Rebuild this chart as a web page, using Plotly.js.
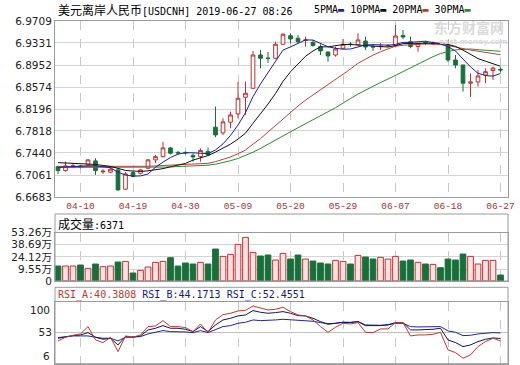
<!DOCTYPE html>
<html><head><meta charset="utf-8">
<script src="https://cdn.plot.ly/plotly-3.0.1.min.js"></script>
<style>html,body{margin:0;padding:0;background:#fff;}#chart{width:520px;height:365px;}</style>
</head><body><div id="chart"></div>
<script>
const dates = ['04-05','04-08','04-09','04-10','04-11','04-12','04-15','04-16','04-17','04-18','04-19','04-22','04-23','04-24','04-25','04-26','04-29','04-30','05-01','05-02','05-03','05-06','05-07','05-08','05-09','05-10','05-13','05-14','05-15','05-16','05-17','05-20','05-21','05-22','05-23','05-24','05-27','05-28','05-29','05-30','05-31','06-03','06-04','06-05','06-06','06-07','06-10','06-11','06-12','06-13','06-14','06-17','06-18','06-19','06-20','06-21','06-24','06-25','06-26','06-27'];
const tickLabels = ['04-10','04-19','04-30','05-09','05-20','05-29','06-07','06-18','06-27'];
const priceTicks = [6.6683, 6.7061, 6.7440, 6.7818, 6.8196, 6.8574, 6.8952, 6.9331, 6.9709];

const open = [6.7206,6.7137,6.7200,6.7218,6.7235,6.7304,6.7115,6.7109,6.7149,6.6817,6.7103,6.7092,6.7178,6.7321,6.7377,6.7527,6.7450,6.7450,6.7398,6.7377,6.7467,6.7883,6.7785,6.7969,6.8111,6.8398,6.8553,6.9125,6.9073,6.9068,6.9309,6.9456,6.9412,6.9374,6.9343,6.9267,6.9176,6.9125,6.9240,6.9314,6.9297,6.9365,6.9271,6.9267,6.9279,6.9288,6.9460,6.9353,6.9271,6.9340,6.9322,6.9322,6.9297,6.9039,6.8953,6.8639,6.8661,6.8781,6.8858,6.8879];
const high = [6.7218,6.7291,6.7264,6.7235,6.7333,6.7350,6.7161,6.7206,6.7178,6.7115,6.7123,6.7166,6.7338,6.7407,6.7635,6.7544,6.7475,6.7467,6.7432,6.7518,6.7532,6.8237,6.8037,6.8151,6.8666,6.8666,6.9194,6.9211,6.9176,6.9353,6.9498,6.9498,6.9468,6.9439,6.9383,6.9309,6.9182,6.9267,6.9400,6.9343,6.9498,6.9439,6.9309,6.9326,6.9314,6.9640,6.9554,6.9439,6.9326,6.9365,6.9357,6.9348,6.9383,6.9125,6.8953,6.8810,6.8867,6.8896,6.8924,6.8913];
const low = [6.7080,6.7120,6.7178,6.7175,6.7218,6.7063,6.7080,6.7097,6.6793,6.6805,6.7020,6.7072,6.7166,6.7264,6.7364,6.7415,6.7407,6.7415,6.7291,6.7291,6.7389,6.7711,6.7750,6.7865,6.8037,6.8094,6.8541,6.8896,6.8987,6.9051,6.9297,6.9326,6.9326,6.9267,6.9267,6.9125,6.9010,6.9096,6.9237,6.9267,6.9288,6.9211,6.9194,6.9211,6.9262,6.9267,6.9400,6.9240,6.9182,6.9297,6.9297,6.9297,6.9005,6.8896,6.8494,6.8403,6.8580,6.8639,6.8695,6.8821];
const close = [6.7137,6.7218,6.7218,6.7200,6.7321,6.7137,6.7127,6.7161,6.6805,6.7080,6.7037,6.7149,6.7321,6.7377,6.7527,6.7436,6.7441,6.7441,6.7372,6.7484,6.7407,6.7750,6.7974,6.8094,6.8381,6.8467,6.9125,6.9068,6.9065,6.9309,6.9481,6.9400,6.9353,6.9383,6.9288,6.9194,6.9108,6.9228,6.9309,6.9305,6.9383,6.9262,6.9262,6.9274,6.9288,6.9451,6.9434,6.9271,6.9322,6.9331,6.9331,6.9314,6.9039,6.8953,6.8639,6.8661,6.8764,6.8838,6.8901,6.8867];

const ma5 = [6.7192,6.7200,6.7209,6.7212,6.7219,6.7219,6.7200,6.7188,6.7109,6.7061,6.7042,6.7046,6.7078,6.7194,6.7283,6.7362,6.7420,6.7444,6.7443,6.7434,6.7429,6.7491,6.7597,6.7742,6.7920,6.8133,6.8408,6.8627,6.8821,6.9006,6.9209,6.9264,6.9321,6.9384,6.9381,6.9324,6.9266,6.9240,6.9224,6.9228,6.9266,6.9297,6.9303,6.9297,6.9293,6.9307,6.9341,6.9343,6.9353,6.9362,6.9338,6.9314,6.9267,6.9194,6.9054,6.8920,6.8810,6.8771,6.8761,6.8807];
const ma10 = [6.7274,6.7269,6.7266,6.7261,6.7252,6.7243,6.7226,6.7209,6.7175,6.7140,6.7130,6.7123,6.7133,6.7151,6.7171,6.7202,6.7233,6.7261,6.7317,6.7359,6.7395,6.7455,6.7520,6.7592,6.7678,6.7781,6.7950,6.8113,6.8281,6.8463,6.8671,6.8836,6.8974,6.9102,6.9194,6.9266,6.9264,6.9281,6.9305,6.9305,6.9295,6.9281,6.9273,6.9261,6.9261,6.9286,6.9319,6.9324,6.9326,6.9328,6.9322,6.9328,6.9305,6.9273,6.9209,6.9130,6.9063,6.9018,6.8977,6.8931];
const ma20 = [6.7209,6.7209,6.7209,6.7212,6.7212,6.7214,6.7214,6.7212,6.7204,6.7204,6.7204,6.7207,6.7211,6.7218,6.7223,6.7226,6.7230,6.7235,6.7240,6.7249,6.7262,6.7290,6.7328,6.7372,6.7426,6.7491,6.7592,6.7687,6.7800,6.7912,6.8034,6.8145,6.8247,6.8348,6.8436,6.8523,6.8608,6.8697,6.8793,6.8884,6.8982,6.9058,6.9123,6.9181,6.9228,6.9276,6.9291,6.9302,6.9316,6.9316,6.9309,6.9305,6.9288,6.9267,6.9235,6.9209,6.9192,6.9171,6.9151,6.9130];
const ma30 = [6.7192,6.7192,6.7192,6.7192,6.7194,6.7194,6.7194,6.7192,6.7188,6.7187,6.7187,6.7187,6.7190,6.7194,6.7197,6.7200,6.7204,6.7209,6.7214,6.7221,6.7230,6.7247,6.7273,6.7307,6.7346,6.7393,6.7453,6.7518,6.7585,6.7654,6.7733,6.7805,6.7876,6.7950,6.8015,6.8084,6.8149,6.8218,6.8302,6.8376,6.8453,6.8523,6.8589,6.8652,6.8711,6.8778,6.8845,6.8905,6.8970,6.9032,6.9096,6.9149,6.9183,6.9212,6.9221,6.9228,6.9216,6.9207,6.9202,6.9188];

const volume = [13.16,13.16,13.16,14.36,10.35,15.57,12.36,13.16,17.97,18.77,4.74,7.95,11.96,17.57,18.77,23.19,13.16,16.77,15.57,17.57,15.57,33.61,24.79,27.20,39.24,47.65,29.60,25.19,26.39,20.38,28.40,21.58,26.39,21.58,19.17,16.77,15.57,19.98,18.77,15.57,25.99,23.99,21.58,23.59,21.58,24.79,19.17,20.38,17.57,15.57,15.17,11.16,21.58,20.38,27.60,24.79,15.57,19.98,19.98,2.33];
const volTicks = [9.55, 24.12, 38.69, 53.26];
const volTickText = ['9.55万','24.12万','38.69万','53.26万'];

const rsiA = [40.42,45.95,48.97,50.99,62.06,41.93,37.90,45.95,24.31,47.97,45.95,49.48,62.06,63.07,71.12,62.06,62.06,60.55,54.51,66.09,53.00,72.13,80.18,82.19,85.71,86.72,93.26,89.74,87.22,88.23,91.25,84.71,79.67,78.17,72.13,62.06,53.50,61.05,67.09,66.09,68.10,53.50,53.00,58.54,58.54,68.10,68.10,47.97,49.48,49.48,50.48,53.50,26.83,22.80,14.25,19.28,31.86,39.41,44.44,40.38];
const rsiB = [44.44,46.96,48.47,49.48,53.00,45.95,42.93,44.44,34.38,46.96,45.95,47.97,57.03,59.54,63.57,59.54,59.54,58.03,54.51,62.06,54.51,64.58,72.13,74.64,78.17,79.67,86.22,83.70,82.19,83.20,84.71,82.19,78.67,78.17,74.64,69.61,65.58,67.09,68.60,68.10,69.61,63.57,63.07,63.57,64.58,68.10,68.10,57.03,57.03,57.03,58.03,59.54,41.93,37.90,31.86,34.38,39.41,42.93,44.95,44.17];
const rsiC = [45.45,46.96,47.97,47.97,47.97,45.95,44.44,44.44,40.42,45.95,45.95,46.96,50.99,53.00,56.02,54.51,54.51,54.01,53.00,56.02,53.00,58.03,62.06,63.57,67.09,68.60,72.13,71.12,71.12,72.13,73.13,72.63,71.12,71.12,70.11,68.10,66.59,67.09,68.60,68.60,69.61,64.58,64.07,64.07,65.08,67.09,67.09,62.06,61.56,61.56,61.56,62.06,55.52,53.50,48.47,48.97,50.99,51.99,53.00,52.46];

const RED = '#bf3030', GREEN = '#17703a';
const W = 520, H = 365;
const px = v => v / W, py = v => 1 - v / H;
const XD = [px(55), px(508)];
const VOL_MIN = -4.85;

const isUp = close.map((c, i) => c >= open[i]);

const traces = [
  {type:'candlestick', x:dates, open:open, high:high, low:low, close:close, xaxis:'x', yaxis:'y',
   increasing:{line:{color:RED, width:1}, fillcolor:'#ffffff'},
   decreasing:{line:{color:GREEN, width:1}, fillcolor:GREEN},
   whiskerwidth:0, hoverinfo:'skip'},
  {type:'scatter', mode:'lines', x:dates, y:ma30, line:{color:'#2e8b2e', width:1}, xaxis:'x', yaxis:'y', hoverinfo:'skip'},
  {type:'scatter', mode:'lines', x:dates, y:ma20, line:{color:'#b8453a', width:1}, xaxis:'x', yaxis:'y', hoverinfo:'skip'},
  {type:'scatter', mode:'lines', x:dates, y:ma10, line:{color:'#111111', width:1}, xaxis:'x', yaxis:'y', hoverinfo:'skip'},
  {type:'scatter', mode:'lines', x:dates, y:ma5, line:{color:'#1f1f99', width:1}, xaxis:'x', yaxis:'y', hoverinfo:'skip'},
  {type:'bar', x:dates, y:volume.map(v => v - VOL_MIN), base:VOL_MIN, xaxis:'x2', yaxis:'y2',
   marker:{color:isUp.map(u => u ? '#ffe3e3' : GREEN), line:{color:isUp.map(u => u ? RED : GREEN), width:1}},
   hoverinfo:'skip'},
  {type:'scatter', mode:'lines', x:dates, y:rsiC, line:{color:'#23239a', width:1}, xaxis:'x3', yaxis:'y3', hoverinfo:'skip'},
  {type:'scatter', mode:'lines', x:dates, y:rsiB, line:{color:'#15154f', width:1}, xaxis:'x3', yaxis:'y3', hoverinfo:'skip'},
  {type:'scatter', mode:'lines', x:dates, y:rsiA, line:{color:'#c0392b', width:1}, xaxis:'x3', yaxis:'y3', hoverinfo:'skip'}
];

const gridX = {type:'category', range:[-0.4, 60], tickvals:tickLabels, ticktext:tickLabels,
  showgrid:true, gridcolor:'#c8c8c8', griddash:'dash', gridwidth:1,
  showline:true, mirror:true, linecolor:'#9a9a9a', linewidth:1, ticks:'', zeroline:false, fixedrange:true};

const layout = {
  width:W, height:H, margin:{l:0, r:0, t:0, b:0}, paper_bgcolor:'#fff', plot_bgcolor:'#fff',
  showlegend:false, boxgap:0.3, bargap:0.24, hovermode:false,
  xaxis: Object.assign({}, gridX, {domain:XD, anchor:'y', rangeslider:{visible:false},
    tickfont:{family:'Liberation Mono, DejaVu Sans Mono, monospace', size:9.5, color:'#a83232'}}),
  yaxis: {domain:[py(197), py(21)], anchor:'x', range:[6.6683, 6.9709], tickvals:priceTicks,
    ticktext:priceTicks.map(v => v.toFixed(4)), tickfont:{family:'DejaVu Sans', size:10.5, color:'#222'},
    showgrid:true, gridcolor:'#d4d4d4', showline:true, mirror:true, linecolor:'#9a9a9a', ticks:'', zeroline:false, fixedrange:true},
  xaxis2: Object.assign({}, gridX, {domain:XD, anchor:'y2', matches:'x', showticklabels:false}),
  yaxis2: {domain:[py(281), py(232.7)], anchor:'x2', range:[VOL_MIN, 53.26],
    tickvals:[VOL_MIN].concat(volTicks), ticktext:['0'].concat(volTickText),
    tickfont:{family:'DejaVu Sans, Noto Sans CJK SC', size:10.5, color:'#222'},
    showgrid:true, gridcolor:'#d4d4d4', showline:true, mirror:true, linecolor:'#b0b0b0', ticks:'', zeroline:false, fixedrange:true},
  xaxis3: Object.assign({}, gridX, {domain:XD, anchor:'y3', matches:'x', showticklabels:false}),
  yaxis3: {domain:[py(363.7), py(301.5)], anchor:'x3', range:[6, 100], tickvals:[53], ticktext:['53'],
    tickfont:{family:'DejaVu Sans', size:10.5, color:'#222'},
    showgrid:true, gridcolor:'#c0c0c0', showline:true, mirror:true, linecolor:'#9a9a9a', ticks:'', zeroline:false, fixedrange:true},
  shapes:[
    {type:'rect', xref:'paper', yref:'paper', x0:XD[0], x1:XD[1], y0:py(281), y1:py(214), line:{color:'#9a9a9a', width:1}},
    {type:'rect', xref:'paper', yref:'paper', x0:XD[0], x1:XD[1], y0:py(363.7), y1:py(287.3), line:{color:'#9a9a9a', width:1}}
  ],
  annotations:[
    {xref:'paper', yref:'paper', x:px(432), y:py(27), xanchor:'left', yanchor:'middle', showarrow:false,
     text:'<b>东方财富网</b>', font:{family:'Noto Sans CJK SC', size:14, color:'#dadada'}},
    {xref:'paper', yref:'paper', x:px(437), y:py(41.5), xanchor:'left', yanchor:'middle', showarrow:false,
     text:'<b>east money.com</b>', font:{family:'DejaVu Sans', size:7.5, color:'#dadada'}},
    {xref:'paper', yref:'paper', x:px(56), y:py(9.5), xanchor:'left', yanchor:'middle', showarrow:false,
     text:'美元离岸人民币<span style="font-family:DejaVu Sans Mono;font-size:10px">[USDCNH] 2019-06-27 08:26</span>',
     font:{family:'Noto Sans CJK SC', size:12, color:'#000'}},
    {xref:'paper', yref:'paper', x:px(312), y:py(9.5), xanchor:'left', yanchor:'middle', showarrow:false,
     text:'5PMA<span style="color:#1f1f99">▬</span> 10PMA<span style="color:#111">▬</span> 20PMA<span style="color:#c0392b">▬</span> 30PMA<span style="color:#2e8b2e">▬</span>',
     font:{family:'DejaVu Sans Mono', size:10, color:'#000'}},
    {xref:'paper', yref:'paper', x:px(56), y:py(223), xanchor:'left', yanchor:'middle', showarrow:false,
     text:'成交量<span style="font-family:DejaVu Sans Mono;font-size:10px">:6371</span>',
     font:{family:'Noto Sans CJK SC', size:12, color:'#000'}},
    {xref:'paper', yref:'paper', x:px(56), y:py(294.5), xanchor:'left', yanchor:'middle', showarrow:false,
     text:'<span style="color:#c0392b">RSI_A:40.3808</span> <span style="color:#1a1a80">RSI_B:44.1713</span> <span style="color:#1a1a80">RSI_C:52.4551</span>',
     font:{family:'DejaVu Sans Mono', size:10, color:'#000'}},
    {xref:'paper', yref:'y3', x:px(52), y:100, yshift:-8, xanchor:'right', yanchor:'middle', showarrow:false,
     text:'100', font:{family:'DejaVu Sans', size:10.5, color:'#222'}},
    {xref:'paper', yref:'y3', x:px(52), y:6, yshift:8, xanchor:'right', yanchor:'middle', showarrow:false,
     text:'6', font:{family:'DejaVu Sans', size:10.5, color:'#222'}}
  ]
};

Plotly.newPlot('chart', traces, layout, {staticPlot:true, displayModeBar:false});
</script>
</body></html>
